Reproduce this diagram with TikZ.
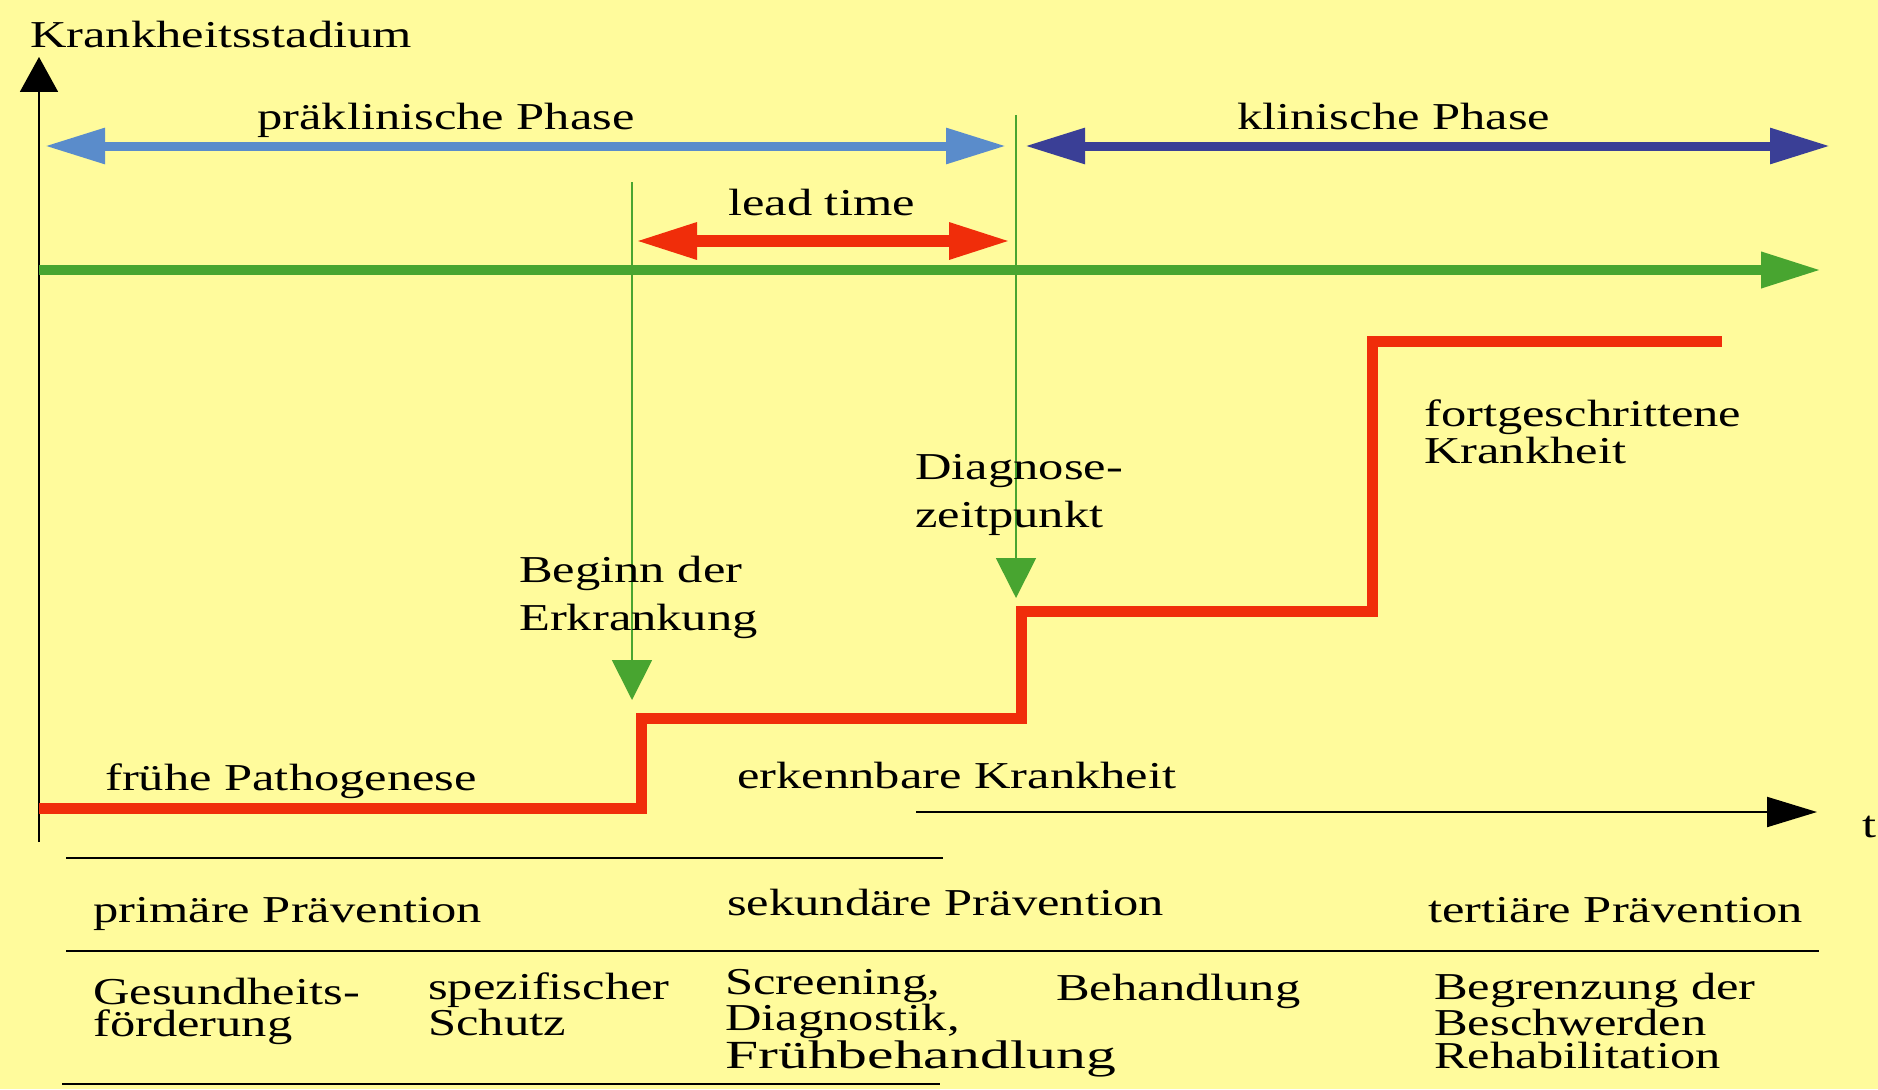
\documentclass[tikz,border=0pt]{standalone}
\usepackage{fontspec}
\usepackage{graphicx}
\newfontfamily\wf[FakeStretch=1.33]{Liberation Serif}
\usetikzlibrary{arrows.meta}
\definecolor{bgy}{RGB}{255,251,156}
\definecolor{lblue}{RGB}{90,140,203}
\definecolor{dblue}{RGB}{58,63,150}
\definecolor{grn}{RGB}{72,165,48}
\definecolor{redl}{RGB}{240,45,10}
\begin{document}
\begin{tikzpicture}[x=1pt,y=-1pt,
  lbl/.style={font=\wf\fontsize{38}{32}\selectfont, inner sep=0pt, anchor=base west, align=left},
  lblwide/.style={lbl, font=\wf\fontsize{38}{48}\selectfont},
  lblmid/.style={lbl, font=\wf\fontsize{38}{37}\selectfont},
  phasearrow/.style={line width=9pt, {Triangle[length=60pt,width=34pt]}-{Triangle[length=60pt,width=34pt]}},
  leadarrow/.style={line width=12pt, redl, {Triangle[length=62pt,width=34pt]}-{Triangle[length=62pt,width=34pt]}},
  markline/.style={grn, line width=1.8pt, -{Triangle[length=40pt,width=40pt]}},
  axisline/.style={black, line width=2pt},
  sepline/.style={black, line width=2.4pt},
  stepline/.style={redl, line width=11pt, line join=miter}
]
\useasboundingbox (0,0) rectangle (1878,1089);
\fill[bgy] (0,0) rectangle (1878,1089);

% coordinates
\coordinate (yb) at (39,842);
\coordinate (yt) at (39,57);
\coordinate (pl) at (45,146);
\coordinate (pr) at (1006,146);
\coordinate (kl) at (1025,146);
\coordinate (kr) at (1830,146);
\coordinate (ll) at (635,241);
\coordinate (lr) at (1011,241);
\coordinate (g0) at (39,270);
\coordinate (g1) at (1821,270);
\coordinate (v1t) at (632,182);
\coordinate (v1b) at (632,700);
\coordinate (v2t) at (1016,115);
\coordinate (v2b) at (1016,598);
\coordinate (s0) at (39,808);
\coordinate (s1) at (641,808);
\coordinate (s2) at (641,718);
\coordinate (s3) at (1021,718);
\coordinate (s4) at (1021,611);
\coordinate (s5) at (1372,611);
\coordinate (s6) at (1372,341);
\coordinate (s7) at (1722,341);
\coordinate (tl) at (916,812);
\coordinate (tr) at (1817,812);
\coordinate (a0) at (66,858);
\coordinate (a1) at (943,858);
\coordinate (b0) at (66,951);
\coordinate (b1) at (1819,951);
\coordinate (c0) at (62,1084);
\coordinate (c1) at (940,1084);

% y axis
\draw[axisline, -{Triangle[length=35pt,width=38pt]}] (yb) -- (yt);

% marker lines
\draw[markline] (v1t) -- (v1b);
\draw[markline] (v2t) -- (v2b);

% phase arrows
\draw[phasearrow, lblue] (pl) -- (pr);
\draw[phasearrow, dblue] (kl) -- (kr);
\draw[leadarrow] (ll) -- (lr);
\draw[grn, line width=10pt, -{Triangle[length=60pt,width=34pt]}] (g0) -- (g1);

% disease stage steps
\draw[stepline] (s0) -- (s1) -- (s2) -- (s3) -- (s4) -- (s5) -- (s6) -- (s7);

% time axis
\draw[axisline, -{Triangle[length=50pt,width=30pt]}] (tl) -- (tr);

% separator lines
\draw[sepline] (a0) -- (a1);
\draw[sepline] (b0) -- (b1);
\draw[sepline] (c0) -- (c1);

% texts (multi-line nodes: base = last line's baseline)
\node[lbl] (title) at (30,48) {Krankheitsstadium};
\node[lbl] (prak) at (257,130) {präklinische Phase};
\node[lbl] (klin) at (1237,130) {klinische Phase};
\node[lbl] (lead) at (728,215) {lead time};
\node[lblwide] (beginn) at (519,630) {Beginn der\\Erkrankung};
\node[lblwide] (diag) at (915,527) {Diagnose-\\zeitpunkt};
\node[lblmid] (fort) at (1424,463) {fortgeschrittene\\Krankheit};
\node[lbl] (fruehe) at (105,790) {frühe Pathogenese};
\node[lbl] (erk) at (737,788) {erkennbare Krankheit};
\node[lbl] (tlabel) at (1862,837) {t};
\node[lbl] (prim) at (93,922) {primäre Prävention};
\node[lbl] (sek) at (727,915) {sekundäre Prävention};
\node[lbl] (tert) at (1428,922) {tertiäre Prävention};
\node[lbl] (ges) at (93,1036) {Gesundheits-\\förderung};
\node[lbl] (spez) at (428,1035) {spezifischer\\Schutz};
\node[lbl] (scr) at (725,1068) {Screening,\\Diagnostik,\\[1pt]\scalebox{1.18}[1.05]{Frühbehandlung}};
\node[lbl] (beh) at (1056,1000) {Behandlung};
\node[lbl] (begr) at (1434,1068) {Begrenzung der\\Beschwerden\\[1pt]Rehabilitation};
\end{tikzpicture}
\end{document}
